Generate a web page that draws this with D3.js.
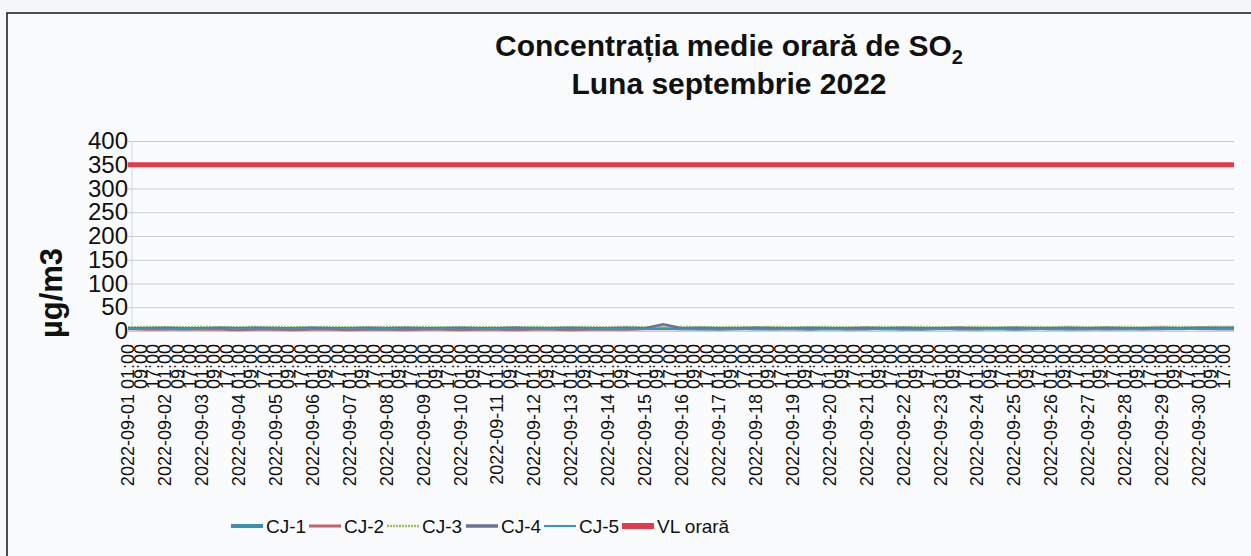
<!DOCTYPE html>
<html>
<head>
<meta charset="utf-8">
<script src="https://cdn.jsdelivr.net/npm/d3@7"></script>
<style>
body { margin: 0; background: #f6f7f8; }
text { font-family: Arial, "Liberation Sans", sans-serif; }
</style>
</head>
<body>
<div id="chart"></div>
<script>
var width = 1251
var height = 556
var padding = { top: 141, right: 17, bottom: 225, left: 128 };

// hourly series, read every 12 hours (01:00 and 13:00 of each day)
var stepHours = 12;
var cj1 = [5,6,5,4,5,6,5,5,4,5,6,5,5,4,4,5,5,6,5,4,5,5,6,5,4,5,5,4,5,6,
           5,5,4,5,6,6,5,4,5,5,6,5,5,4,5,6,5,5,4,5,6,5,5,6,5,4,5,5,6,5];
var cj2 = [4,3,3,4,3,3,2,3,3,2,3,3,2,3,3,2,3,3,2,3,3,2,3,3,2,3,3,3,4,4,
           4,5,4,4,5,4,4,4,5,4,4,5,4,4,5,4,4,5,4,4,5,4,4,4,5,4,4,5,4,4];
var cj3 = [8,9,8,8,9,8,8,9,9,8,8,9,8,8,9,8,9,8,8,9,8,8,9,8,8,9,8,9,8,8,
           9,8,8,9,8,9,8,8,9,8,8,9,8,9,8,8,9,8,8,9,8,9,8,8,9,8,9,9,8,9];
var cj4 = [6,6,7,6,6,7,6,7,6,6,7,6,6,7,6,7,6,6,7,6,6,7,6,6,7,6,6,7,6,14,
           6,7,6,6,7,6,6,7,6,6,7,6,7,6,6,7,6,6,7,6,6,7,6,7,6,6,7,6,7,7];
var cj5 = [5,4,4,5,4,4,5,4,4,5,4,4,5,4,5,4,4,5,4,4,5,4,4,5,4,4,5,4,4,5,
           4,3,3,4,3,3,4,3,4,3,3,4,3,3,4,3,3,4,3,4,3,3,4,3,3,4,4,5,4,5];
var vlOrara = 350;

var seriesNames = ['CJ-1', 'CJ-2', 'CJ-3', 'CJ-4', 'CJ-5', 'VL orară'];
var seriesColors = ['#3b8fb5', '#c3616c', '#9cc25e', '#6b7394', '#3a93c2', '#e23b4b'];
var yTicks = [0, 50, 100, 150, 200, 250, 300, 350, 400];
var days = ['01','02','03','04','05','06','07','08','09','10','11','12','13','14','15',
            '16','17','18','19','20','21','22','23','24','25','26','27','28','29','30'];
var tickHours = ['01:00', '09:00', '17:00'];
var totalHours = 720;

var svg = d3.select('#chart')
    .append('svg')
    .attr('width', width)
    .attr('height', height);

var chartWidth = width - padding.left - padding.right;
var chartHeight = height - padding.top - padding.bottom;

// outer frame of the pasted chart
svg.append('rect')
    .attr('x', 7).attr('y', 13)
    .attr('width', 1300).attr('height', 700)
    .attr('fill', '#fafbfc')
    .attr('stroke', '#222')
    .attr('stroke-width', 1.6);

var xScale = d3.scaleLinear()
    .domain([0, totalHours - 1])
    .range([padding.left, padding.left + chartWidth]);
var yScale = d3.scaleLinear()
    .domain([0, 400])
    .range([padding.top + chartHeight, padding.top]);

// title
var title = svg.append('text')
    .attr('x', 729).attr('y', 56)
    .attr('text-anchor', 'middle')
    .style('font-size', '30px')
    .style('font-weight', 'bold')
    .style('fill', '#111');
title.append('tspan').text('Concentrația medie orară de SO');
title.append('tspan').attr('dy', 8).style('font-size', '20px').text('2');
svg.append('text')
    .attr('x', 729).attr('y', 94)
    .attr('text-anchor', 'middle')
    .style('font-size', '30px')
    .style('font-weight', 'bold')
    .style('fill', '#111')
    .text('Luna septembrie 2022');

// gridlines
svg.append('g')
    .attr('transform', 'translate(' + padding.left + ',0)')
    .call(d3.axisLeft(yScale).tickValues(yTicks).tickSize(-chartWidth).tickFormat(''))
    .call(function(g) { g.select('.domain').remove(); })
    .selectAll('line')
    .attr('stroke', '#c9cbce')
    .attr('stroke-width', 1);

svg.append('line')
    .attr('x1', padding.left + 4).attr('x2', padding.left + 4)
    .attr('y1', yScale(400)).attr('y2', yScale(0))
    .attr('stroke', '#d4d6d8');

// y axis labels
var yAxis = svg.append('g')
    .attr('transform', 'translate(' + padding.left + ',0)')
    .call(d3.axisLeft(yScale).tickValues(yTicks).tickSize(0).tickPadding(0));
yAxis.select('.domain').remove();
yAxis.selectAll('text')
    .style('font-size', '24px')
    .style('font-family', 'Arial, "Liberation Sans", sans-serif')
    .attr('fill', '#111');

svg.append('text')
    .attr('transform', 'translate(62,' + 293 + ') rotate(-90)')
    .attr('text-anchor', 'middle')
    .style('font-size', '31px')
    .style('font-weight', 'bold')
    .style('fill', '#111')
    .text('µg/m3');

// x labels
var xTicks = [];
for (var d = 0; d < days.length; d++) {
    for (var h = 0; h < tickHours.length; h++) {
        xTicks.push({
            hour: d * 24 + h * 8,
            label: h === 0 ? '2022-09-' + days[d] + ' ' + tickHours[h] : tickHours[h]
        });
    }
}
svg.append('g').selectAll('text')
    .data(xTicks)
    .enter().append('text')
    .attr('transform', function(t) { return 'translate(' + xScale(t.hour) + ',344) rotate(-90)'; })
    .attr('text-anchor', 'end')
    .attr('dy', '0.35em')
    .style('font-size', '18px')
    .style('fill', '#111')
    .text(function(t) { return t.label; });

// data lines
var line = d3.line()
    .x(function(v, i) { return xScale(Math.min(i * stepHours, totalHours - 1)); })
    .y(function(v) { return yScale(v); });

var series = [cj1, cj2, cj3, cj4, cj5];
var widths = [3, 2.5, 2.2, 2.5, 1.8];
var dashes = [null, null, '2,1', null, null];
series.forEach(function(s, i) {
    // extend to the end of the month with the last read value
    var vals = s.concat([s[s.length - 1]]);
    svg.append('path')
        .datum(vals)
        .attr('fill', 'none')
        .attr('stroke', seriesColors[i])
        .attr('stroke-width', widths[i])
        .attr('stroke-dasharray', dashes[i])
        .attr('d', line);
});

svg.append('line')
    .attr('x1', xScale(0)).attr('x2', xScale(totalHours - 1))
    .attr('y1', yScale(vlOrara)).attr('y2', yScale(vlOrara))
    .attr('stroke', seriesColors[5])
    .attr('stroke-width', 5);

// legend
var legendX = [231, 309, 387, 466, 544, 622];
var legendW = [4, 3, 2.5, 3.5, 2, 6];
var legend = svg.append('g').selectAll('g')
    .data(seriesNames)
    .enter().append('g')
    .attr('transform', function(n, i) { return 'translate(' + legendX[i] + ',526)'; });
legend.append('line')
    .attr('x1', 0).attr('x2', 32)
    .attr('stroke', function(n, i) { return seriesColors[i]; })
    .attr('stroke-width', function(n, i) { return legendW[i]; })
    .attr('stroke-dasharray', function(n, i) { return i === 2 ? '2,1' : null; });
legend.append('text')
    .attr('x', 35).attr('dy', '0.35em')
    .style('font-size', '19px')
    .style('fill', '#111')
    .text(function(n) { return n; });
</script>
</body>
</html>
